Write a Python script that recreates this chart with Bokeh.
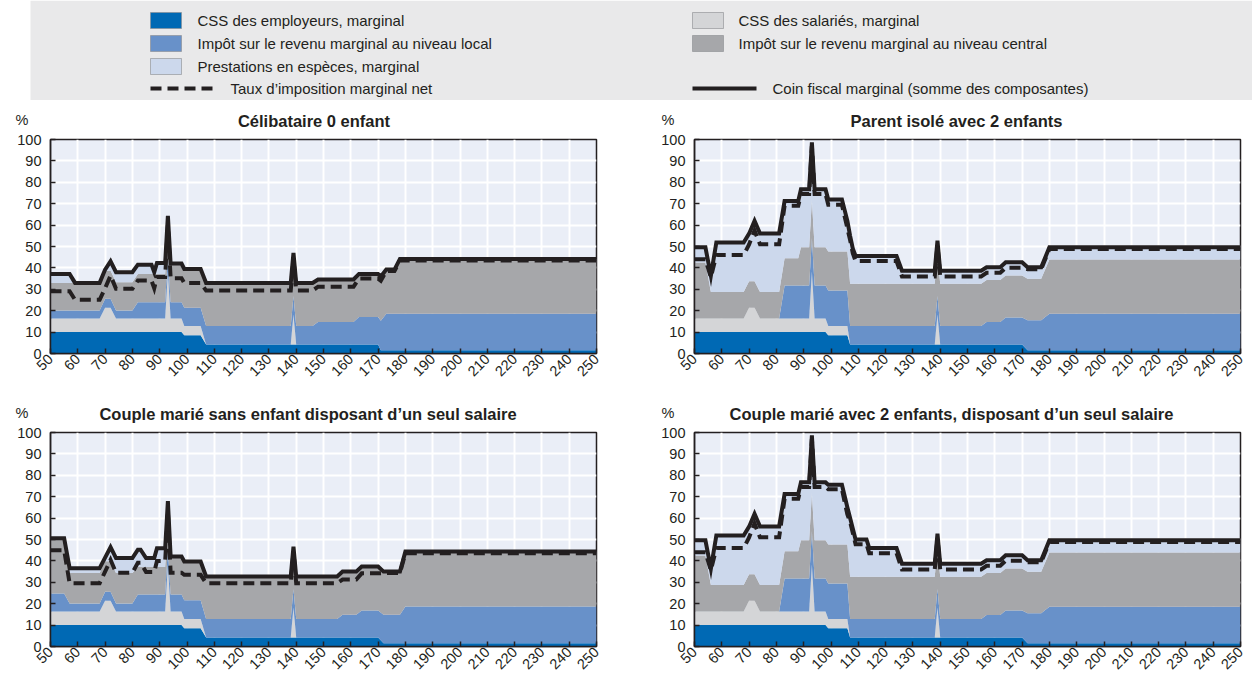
import math
import numpy as np
from bokeh.plotting import figure
from bokeh.models import Range1d, FixedTicker
from bokeh.layouts import column, row
from bokeh.embed import file_html
from bokeh.resources import INLINE
from bokeh.core.properties import value

# ---------------- data ----------------
TITLES = [
    "Célibataire 0 enfant",
    "Parent isolé avec 2 enfants",
    "Couple marié sans enfant disposant d’un seul salaire",
    "Couple marié avec 2 enfants, disposant d’un seul salaire",
]
UNIT = "%"
SERIES_LABELS = [
    "CSS des employeurs, marginal",
    "CSS des salariés, marginal",
    "Impôt sur le revenu marginal au niveau local",
    "Impôt sur le revenu marginal au niveau central",
    "Prestations en espèces, marginal",
    "Taux d’imposition marginal net",
    "Coin fiscal marginal (somme des composantes)",
]
X_TICKS = [50, 60, 70, 80, 90, 100, 110, 120, 130, 140, 150, 160, 170, 180, 190, 200, 210, 220, 230, 240, 250]
Y_TICKS = [0, 10, 20, 30, 40, 50, 60, 70, 80, 90, 100]

# Panel 1 : Célibataire 0 enfant
P1_X = [50, 57, 59, 68, 70, 72, 74, 80, 82, 87, 88, 89, 92, 93, 94, 98, 99, 105, 107, 138, 139, 140, 146, 148, 161, 163, 170, 171, 173, 176, 178, 250]
P1_EMP = [10, 10, 10, 10, 10, 10, 10, 10, 10, 10, 10, 10, 10, 10, 10, 10, 8.5, 8.5, 4.2, 4.2, 4.2, 4.2, 4.2, 4.2, 4.2, 4.2, 4.2, 1.5, 1.5, 1.5, 1.5, 1.5]
P1_SAL = [6.3, 6.3, 6.3, 6.3, 11.4, 11.4, 6.3, 6.3, 6.3, 6.3, 6.3, 6.3, 6.3, 28.3, 6.3, 6.3, 4.4, 4.4, 0, 0, 14, 0, 0, 0, 0, 0, 0, 0, 0, 0, 0, 0]
P1_LOC = [3.8, 3.8, 3.8, 3.8, 4.2, 4.2, 3.8, 3.8, 7.7, 7.7, 7.7, 7.7, 7.7, 7.7, 7.7, 7.7, 8.5, 8.5, 8.7, 8.7, 8.7, 8.7, 8.7, 10.5, 10.5, 12.8, 12.8, 13.8, 17.1, 17.1, 17.1, 17.1]
P1_CEN = [12.9, 12.9, 12.9, 12.9, 13.1, 13.1, 13.2, 13.2, 13.2, 13.2, 13.2, 13.2, 13.2, 13.2, 17.5, 17.5, 18.1, 18.1, 20.1, 20.1, 20.1, 20.1, 20.1, 19.9, 19.9, 20.2, 20.2, 20.7, 20.6, 20.6, 25.6, 25.6]
P1_BEN = [4.2, 4.2, 0, 0, 0.5, 4.4, 4.7, 4.7, 4.3, 4.3, 0.8, 5.1, 5.1, 5.1, 0.5, 0.5, 0, 0, 0, 0, 0, 0, 0, 0, 0, 0, 0, 0, 0, 0, 0, 0]
P1_NET = [29.1, 29.1, 25.1, 25.1, 30.5, 36.4, 30.2, 30.2, 34.1, 34.1, 30.5, 35.8, 35.8, 60, 35.2, 35.2, 33, 33, 29.4, 29.4, 44, 29.4, 29.4, 31.2, 31.2, 35, 35, 34, 38.5, 38.5, 43.4, 43.4]

# Panel 2 : Parent isolé avec 2 enfants
P2_X = [50, 54, 56, 58, 68, 70, 72, 74, 81, 83, 88, 89, 92, 93, 94, 98, 99, 104, 105, 106, 107, 108, 109, 124, 126, 138, 139, 140, 155, 157, 162, 164, 170, 172, 177, 180, 250]
P2_EMP = [10, 10, 10, 10, 10, 10, 10, 10, 10, 10, 10, 10, 10, 10, 10, 10, 8.5, 8.5, 8.5, 8.5, 4.2, 4.2, 4.2, 4.2, 4.2, 4.2, 4.2, 4.2, 4.2, 4.2, 4.2, 4.2, 4.2, 1.5, 1.5, 1.5, 1.5]
P2_SAL = [6.3, 6.3, 6.3, 6.3, 6.3, 11.4, 11.4, 6.3, 6.3, 6.3, 6.3, 6.3, 6.3, 28.3, 6.3, 6.3, 4.4, 4.4, 4.4, 4.4, 0, 0, 0, 0, 0, 0, 14, 0, 0, 0, 0, 0, 0, 0, 0, 0, 0]
P2_LOC = [0, 0, 0, 0, 0, 0, 0, 0, 0, 15.5, 15.5, 15.5, 15.5, 15.5, 15.5, 15.5, 16.5, 16.5, 16.5, 16.5, 8.7, 8.7, 8.7, 8.7, 8.7, 8.7, 8.7, 8.7, 8.7, 10.5, 10.5, 12.6, 12.6, 14, 14, 17.1, 17.1]
P2_CEN = [26.2, 26.2, 12.4, 12.4, 12.4, 12.4, 12.4, 12.4, 12.4, 12.7, 12.7, 17.8, 17.8, 17.8, 17.8, 17.8, 18.3, 18.3, 18.3, 18.3, 19.7, 19.7, 19.7, 19.7, 19.7, 19.7, 19.7, 19.7, 19.7, 19.7, 19.7, 19.6, 19.6, 19.4, 19.4, 25.3, 25.3]
P2_BEN = [7.1, 7.1, 7.7, 23.2, 23.2, 22.2, 28.2, 27.4, 27.4, 26.8, 26.8, 27.1, 27.1, 27.1, 27.1, 27.1, 24.3, 24.3, 19.3, 14.3, 22.4, 16.4, 13, 13, 6.1, 6.1, 6.1, 6.1, 6.1, 5.9, 5.9, 6.2, 6.2, 5.4, 5.4, 5.7, 5.7]
P2_NET = [44, 44, 35.6, 46, 46, 51, 57.5, 51, 51, 69, 69, 74.5, 74.5, 97, 74.5, 74.5, 69.5, 69.5, 64, 58.5, 53, 46.8, 43.2, 43.2, 36, 36, 50.6, 36, 36, 37.7, 37.7, 40.1, 40.1, 39.4, 39.4, 48.8, 48.8]

# Panel 3 : Couple marié sans enfant disposant d'un seul salaire
P3_X = [50, 55, 57, 68, 70, 72, 74, 80, 82, 83, 85, 88, 89, 92, 93, 94, 98, 99, 105, 107, 138, 139, 140, 155, 157, 162, 164, 170, 172, 178, 180, 250]
P3_EMP = [10, 10, 10, 10, 10, 10, 10, 10, 10, 10, 10, 10, 10, 10, 10, 10, 10, 8.5, 8.5, 4.2, 4.2, 4.2, 4.2, 4.2, 4.2, 4.2, 4.2, 4.2, 1.5, 1.5, 1.5, 1.5]
P3_SAL = [6.3, 6.3, 6.3, 6.3, 11.4, 11.4, 6.3, 6.3, 6.3, 6.3, 6.3, 6.3, 6.3, 6.3, 28.3, 6.3, 6.3, 4.4, 4.4, 0, 0, 14, 0, 0, 0, 0, 0, 0, 0, 0, 0, 0]
P3_LOC = [8.5, 8.5, 3.8, 3.8, 4.2, 4.2, 3.8, 3.8, 8.0, 8.0, 8.0, 8.0, 8.0, 8.0, 8.0, 8.0, 8.0, 8.7, 8.7, 8.7, 8.7, 8.7, 8.7, 8.7, 10.6, 10.6, 12.6, 12.6, 13.3, 13.3, 17.2, 17.2]
P3_CEN = [25.8, 25.8, 14.2, 14.2, 14.2, 14.2, 14.2, 14.2, 12.8, 12.8, 12.8, 12.8, 12.8, 12.8, 12.8, 17.8, 17.8, 18.1, 18.1, 19.8, 19.8, 19.8, 19.8, 19.8, 20.2, 20.2, 20.6, 20.6, 20.2, 20.2, 25.7, 25.7]
P3_BEN = [0, 0, 2.3, 2.3, 1.7, 6.6, 7.0, 7.0, 8.1, 8.1, 4.2, 4.2, 8.8, 8.8, 8.8, 0, 0, 0, 0, 0, 0, 0, 0, 0, 0, 0, 0, 0, 0, 0, 0, 0]
P3_NET = [45, 45, 29.6, 29.6, 35, 40.5, 34.5, 34.5, 39.1, 39.1, 34.8, 34.8, 39.9, 39.9, 63, 34.5, 34.5, 33.5, 33.5, 29.6, 29.6, 44, 29.6, 29.6, 31.3, 31.3, 34.2, 34.2, 34.3, 34.3, 43.6, 43.6]

# Panel 4 : Couple marié avec 2 enfants, disposant d'un seul salaire
P4_X = [50, 54, 56, 58, 68, 70, 72, 74, 81, 83, 88, 89, 92, 93, 94, 98, 99, 104, 105, 106, 107, 108, 109, 113, 114, 124, 126, 138, 139, 140, 155, 157, 162, 164, 170, 172, 177, 180, 250]
P4_EMP = [10, 10, 10, 10, 10, 10, 10, 10, 10, 10, 10, 10, 10, 10, 10, 10, 8.5, 8.5, 8.5, 8.5, 4.2, 4.2, 4.2, 4.2, 4.2, 4.2, 4.2, 4.2, 4.2, 4.2, 4.2, 4.2, 4.2, 4.2, 4.2, 1.5, 1.5, 1.5, 1.5]
P4_SAL = [6.3, 6.3, 6.3, 6.3, 6.3, 11.4, 11.4, 6.3, 6.3, 6.3, 6.3, 6.3, 6.3, 28.3, 6.3, 6.3, 4.4, 4.4, 4.4, 4.4, 0, 0, 0, 0, 0, 0, 0, 0, 14, 0, 0, 0, 0, 0, 0, 0, 0, 0, 0]
P4_LOC = [0, 0, 0, 0, 0, 0, 0, 0, 0, 15.5, 15.5, 15.5, 15.5, 15.5, 15.5, 15.5, 16.5, 16.5, 16.5, 16.5, 8.7, 8.7, 8.7, 8.7, 8.7, 8.7, 8.7, 8.7, 8.7, 8.7, 8.7, 10.5, 10.5, 12.6, 12.6, 14, 14, 17.1, 17.1]
P4_CEN = [26.2, 26.2, 12.4, 12.4, 12.4, 12.4, 12.4, 12.4, 12.4, 12.7, 12.7, 17.8, 17.8, 17.8, 17.8, 17.8, 18.3, 18.3, 18.3, 18.3, 19.7, 19.7, 19.7, 19.7, 19.7, 19.7, 19.7, 19.7, 19.7, 19.7, 19.7, 19.7, 19.7, 19.6, 19.6, 19.4, 19.4, 25.3, 25.3]
P4_BEN = [7.1, 7.1, 7.7, 23.2, 23.2, 22.2, 28.2, 27.4, 27.4, 26.8, 26.8, 27.1, 27.1, 27.1, 27.1, 27.1, 27.9, 27.9, 22.6, 17.3, 27.4, 22.4, 17.4, 17.4, 13.4, 13.4, 6.1, 6.1, 6.1, 6.1, 6.1, 5.9, 5.9, 6.2, 6.2, 5.4, 5.4, 5.7, 5.7]
P4_NET = [44, 44, 35.6, 46, 46, 51, 57.5, 51, 51, 69, 69, 74.5, 74.5, 97, 74.5, 74.5, 73.5, 73.5, 67.5, 61.7, 58.2, 53, 47.8, 47.8, 43.6, 43.6, 36, 36, 50.6, 36, 36, 37.7, 37.7, 40.1, 40.1, 39.4, 39.4, 48.8, 48.8]

# ---------------- style ----------------
C_EMP = "#0069B4"
C_SAL = "#D4D5D7"
C_LOC = "#6891C9"
C_CEN = "#A6A7AA"
C_BEN = "#CCD8EC"
C_BG = "#EAEEF7"
C_LEG = "#E9E9EA"
INK = "#231F20"
FONT = "Liberation Sans"
FRAME_W = 546
FRAME_H = 214
COLORS = [C_EMP, C_SAL, C_LOC, C_CEN, C_BEN]
PAGE_W = 1252
HEADER_H = 30


def make_panel(x, comps, net, left, right, bottom):
    p = figure(title=None, frame_width=FRAME_W, frame_height=FRAME_H,
               x_range=Range1d(50, 250), y_range=Range1d(0, 100),
               output_backend="svg", toolbar_location=None,
               min_border_left=left, min_border_right=right,
               min_border_top=9, min_border_bottom=bottom,
               background_fill_color=C_BG, border_fill_color="white")
    x = np.array(x, dtype=float)
    base = np.zeros(len(x))
    for vals, col in zip(comps, COLORS):
        top = base + np.array(vals, dtype=float)
        p.varea(x=x, y1=base, y2=top, fill_color=col)
        base = top
    p.line(x, base, line_color=INK, line_width=4, line_join="miter")
    p.line(x, np.array(net, dtype=float), line_color=INK, line_width=4,
           line_dash="11 6", line_join="miter")

    p.xaxis.ticker = FixedTicker(ticks=X_TICKS)
    p.yaxis.ticker = FixedTicker(ticks=Y_TICKS)
    p.xgrid.ticker = FixedTicker(ticks=X_TICKS)
    p.ygrid.ticker = FixedTicker(ticks=Y_TICKS)
    p.grid.grid_line_color = "white"
    p.grid.grid_line_width = 2
    for ax in (p.xaxis, p.yaxis):
        ax.axis_line_color = INK
        ax.axis_line_width = 1.5
        ax.major_tick_line_color = INK
        ax.major_tick_line_width = 1.5
        ax.major_tick_in = 5
        ax.major_tick_out = 0
        ax.minor_tick_line_color = None
        ax.major_label_text_font = FONT
        ax.major_label_text_font_size = "14.5px"
        ax.major_label_text_color = INK
    p.xaxis.major_label_orientation = math.pi / 4
    p.xaxis.major_label_standoff = 3
    p.yaxis.major_label_standoff = 9
    p.outline_line_color = INK
    p.outline_line_width = 1.5
    p.outline_line_alpha = 1
    return p


def make_header(left_title, right_title):
    """Strip above a row of panels: panel titles and the '%' unit labels."""
    h = figure(width=PAGE_W, height=HEADER_H, x_range=Range1d(0, PAGE_W),
               y_range=Range1d(HEADER_H, 0), output_backend="svg",
               toolbar_location=None, min_border=0)
    h.axis.visible = False
    h.grid.visible = False
    h.outline_line_color = None
    h.background_fill_color = "white"
    h.border_fill_color = "white"
    h.text(x=[21.5, 667.5], y=[19, 19], text=[UNIT, UNIT], text_font=value(FONT),
           text_font_size="14.5px", text_color=INK, text_align="center",
           text_baseline="middle")
    h.text(x=[left_title[1], right_title[1]], y=[20.5, 20.5],
           text=[left_title[0], right_title[0]], text_font=value(FONT),
           text_font_size="16.5px", text_font_style="bold", text_color=INK,
           text_align="center", text_baseline="middle")
    return h


p1 = make_panel(P1_X, [P1_EMP, P1_SAL, P1_LOC, P1_CEN, P1_BEN], P1_NET, 50, 56, 40)
p2 = make_panel(P2_X, [P2_EMP, P2_SAL, P2_LOC, P2_CEN, P2_BEN], P2_NET, 42, 12, 40)
p3 = make_panel(P3_X, [P3_EMP, P3_SAL, P3_LOC, P3_CEN, P3_BEN], P3_NET, 50, 56, 28)
p4 = make_panel(P4_X, [P4_EMP, P4_SAL, P4_LOC, P4_CEN, P4_BEN], P4_NET, 42, 12, 28)

h1 = make_header((TITLES[0], 313.5), (TITLES[1], 956))
h2 = make_header((TITLES[2], 307.5), (TITLES[3], 951))

# ---------------- legend strip ----------------
leg = figure(width=PAGE_W, height=100, x_range=Range1d(0, PAGE_W),
             y_range=Range1d(100, 0), output_backend="svg",
             toolbar_location=None, min_border=0)
leg.axis.visible = False
leg.grid.visible = False
leg.outline_line_color = None
leg.background_fill_color = "white"
leg.border_fill_color = "white"
leg.quad(left=[30], right=[PAGE_W], top=[0], bottom=[100],
         fill_color=C_LEG, line_color=None)

ROW_Y = [20, 43, 66, 88]
SW_X = [150, 692]
TXT_X = [197, 738]
LINE_TXT_X = [230, 772]
legend_layout = [  # (kind, colour, label index, column, row)
    ("box", C_EMP, 0, 0, 0),
    ("box", C_SAL, 1, 1, 0),
    ("box", C_LOC, 2, 0, 1),
    ("box", C_CEN, 3, 1, 1),
    ("box", C_BEN, 4, 0, 2),
    ("dash", INK, 5, 0, 3),
    ("solid", INK, 6, 1, 3),
]
for kind, col, li, c, r in legend_layout:
    y = ROW_Y[r]
    if kind == "box":
        leg.quad(left=[SW_X[c]], right=[SW_X[c] + 31], top=[y - 8], bottom=[y + 8],
                 fill_color=col, line_color="#8A8C8F", line_width=0.6)
        tx = TXT_X[c]
    else:
        leg.line([SW_X[c], SW_X[c] + 64], [y, y], line_color=col, line_width=4,
                 line_dash="11 6" if kind == "dash" else "solid")
        tx = LINE_TXT_X[c]
    leg.text(x=[tx], y=[y], text=[SERIES_LABELS[li]], text_font=value(FONT),
             text_font_size="15px", text_color=INK, text_baseline="middle",
             text_align="left")

layout = column(leg, h1, row(p1, p2), h2, row(p3, p4))
open("out.html", "w").write(file_html(layout, INLINE))
